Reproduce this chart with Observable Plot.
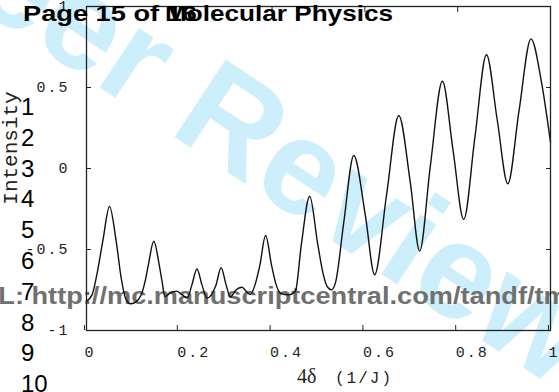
<!DOCTYPE html>
<html><head><meta charset="utf-8">
<script src="https://cdn.jsdelivr.net/npm/d3@7"></script>
<script src="https://cdn.jsdelivr.net/npm/@observablehq/plot@0.6"></script>
<style>
html,body{margin:0;padding:0;background:#fff;}
#wrap{position:relative;width:559px;height:392px;overflow:hidden;background:#fff;}
#wrap svg{position:absolute;left:0;top:0;}
</style></head><body><div id="wrap"></div>
<script>
// Curve samples
const xValues = [0, 0.012, 0.022, 0.035, 0.0496, 0.064, 0.075, 0.084, 0.095, 0.108,
  0.118, 0.126, 0.133, 0.145, 0.157, 0.163, 0.169, 0.18, 0.194, 0.206,
  0.217, 0.227, 0.238, 0.249, 0.26, 0.279, 0.29, 0.301, 0.31, 0.322,
  0.335, 0.345, 0.353, 0.363, 0.3735, 0.386, 0.399, 0.409, 0.418, 0.436,
  0.45, 0.463, 0.481, 0.4985, 0.51, 0.519, 0.528, 0.537, 0.5546, 0.576,
  0.601, 0.621, 0.6466, 0.673, 0.698, 0.718, 0.741, 0.767, 0.79, 0.813,
  0.837, 0.862, 0.885, 0.908, 0.932, 0.958, 0.98, 1.0];
const yValues = [-0.82, -0.78, -0.66, -0.45, -0.235, -0.45, -0.68, -0.80, -0.835, -0.82,
  -0.78, -0.70, -0.60, -0.449, -0.60, -0.70, -0.79, -0.77, -0.757, -0.78,
  -0.80, -0.72, -0.62, -0.72, -0.80, -0.72, -0.613, -0.72, -0.794, -0.75,
  -0.733, -0.76, -0.778, -0.72, -0.60, -0.414, -0.60, -0.72, -0.77, -0.78,
  -0.76, -0.47, -0.171, -0.47, -0.65, -0.73, -0.749, -0.70, -0.33, 0.08,
  -0.29, -0.656, -0.165, 0.327, -0.09, -0.51, 0.015, 0.539, 0.112, -0.315,
  0.19, 0.702, 0.304, -0.094, 0.353, 0.80, 0.543, 0.162];

const xTicks = [0, 0.2, 0.4, 0.6, 0.8, 1];
const xTickLabels = ["0", "0.2", "0.4", "0.6", "0.8", "1"];
const yTicks = [-1, -0.5, 0, 0.5, 1];
const yTickLabels = ["-1", "-0.5", "0", "0.5", "1"];

const yTitle = "Intensity";
const xTitleSymbol = "4δ";
const xTitleUnit = "(1/J)";
const headerLeft = "Page 15 of 16";
const headerRight = "Molecular Physics";
const footerUrl = "URL: http://mc.manuscriptcentral.com/tandf/tmph";
const watermark = "For Peer Review";
const lineNumbers = ["1","2","3","4","5","6","7","8","9","10"];

const W = 559, H = 392;
const wrap = d3.select("#wrap");

// Back layer: watermark and URL
const back = wrap.append("svg").attr("width", W).attr("height", H);
back.append("text")
  .attr("transform", "translate(-321,-191) rotate(33.5)")
  .attr("font-family", "Liberation Sans, Arial, sans-serif")
  .attr("font-weight", "bold")
  .attr("font-size", 135)
  .attr("fill", "#cdeefb")
  .text(watermark);
back.append("text")
  .attr("x", -41).attr("y", 304)
  .attr("font-family", "Liberation Sans, Arial, sans-serif")
  .attr("font-weight", "bold")
  .attr("font-size", 23)
  .attr("fill", "#707070")
  .attr("textLength", 642)
  .attr("lengthAdjust", "spacingAndGlyphs")
  .text(footerUrl);

// Plot
const idx = d3.range(xValues.length);
const chart = Plot.plot({
  width: W, height: H,
  marginLeft: 86, marginRight: 9, marginTop: 6, marginBottom: 62,
  style: {background: "transparent", fontFamily: "Liberation Mono, Courier New, monospace", fontSize: "15px", letterSpacing: "2px", color: "#222"},
  x: {domain: [0, 1]},
  y: {domain: [-1, 1]},
  marks: [
    Plot.line(idx, {x: i => xValues[i], y: i => yValues[i], curve: "monotone-x", stroke: "#111", strokeWidth: 1.4}),
    Plot.frame({stroke: "#222", strokeWidth: 1.3}),
    Plot.axisX({ticks: xTicks, tickFormat: d => xTickLabels[xTicks.indexOf(d)], tickSize: -5, tickPadding: 21, textAnchor: "start", dx: -2, label: null}),
    Plot.axisX({anchor: "top", ticks: xTicks, tickFormat: () => "", tickSize: -5, label: null}),
    Plot.axisY({ticks: yTicks, tickFormat: d => yTickLabels[yTicks.indexOf(d)], tickSize: -5, tickPadding: 22, label: null}),
    Plot.axisY({anchor: "right", ticks: yTicks, tickFormat: () => "", tickSize: -5, label: null})
  ]
});
wrap.node().appendChild(chart);

// Front layer: titles, header, line numbers
const front = wrap.append("svg").attr("width", W).attr("height", H);
front.append("text")
  .attr("transform", "translate(17,148) rotate(-90)")
  .attr("text-anchor", "middle")
  .attr("font-family", "Liberation Mono, Courier New, monospace")
  .attr("font-size", 21)
  .attr("fill", "#222")
  .text(yTitle);
const xt = front.append("text").attr("y", 383).attr("fill", "#222");
xt.append("tspan").attr("x", 297)
  .attr("font-family", "Liberation Serif, Times New Roman, serif").attr("font-size", 20)
  .text(xTitleSymbol);
xt.append("tspan").attr("x", 335)
  .attr("font-family", "Liberation Mono, Courier New, monospace").attr("font-size", 16)
  .attr("letter-spacing", "2px")
  .text(xTitleUnit);

front.append("text")
  .attr("x", 23).attr("y", 20.5)
  .attr("font-family", "Liberation Sans, Arial, sans-serif")
  .attr("font-weight", "bold").attr("font-size", 22)
  .attr("textLength", 174).attr("lengthAdjust", "spacingAndGlyphs")
  .attr("fill", "#000")
  .text(headerLeft);
front.append("text")
  .attr("x", 165).attr("y", 20.5)
  .attr("font-family", "Liberation Sans, Arial, sans-serif")
  .attr("font-weight", "bold").attr("font-size", 22)
  .attr("textLength", 228).attr("lengthAdjust", "spacingAndGlyphs")
  .attr("fill", "#000")
  .text(headerRight);

front.selectAll("text.ln").data(lineNumbers).join("text")
  .attr("class", "ln")
  .attr("x", 21)
  .attr("y", (d, i) => 115 + i * 30.8)
  .attr("font-family", "Liberation Sans, Arial, sans-serif")
  .attr("font-size", 24)
  .attr("fill", "#000")
  .text(d => d);
</script>
</body></html>
